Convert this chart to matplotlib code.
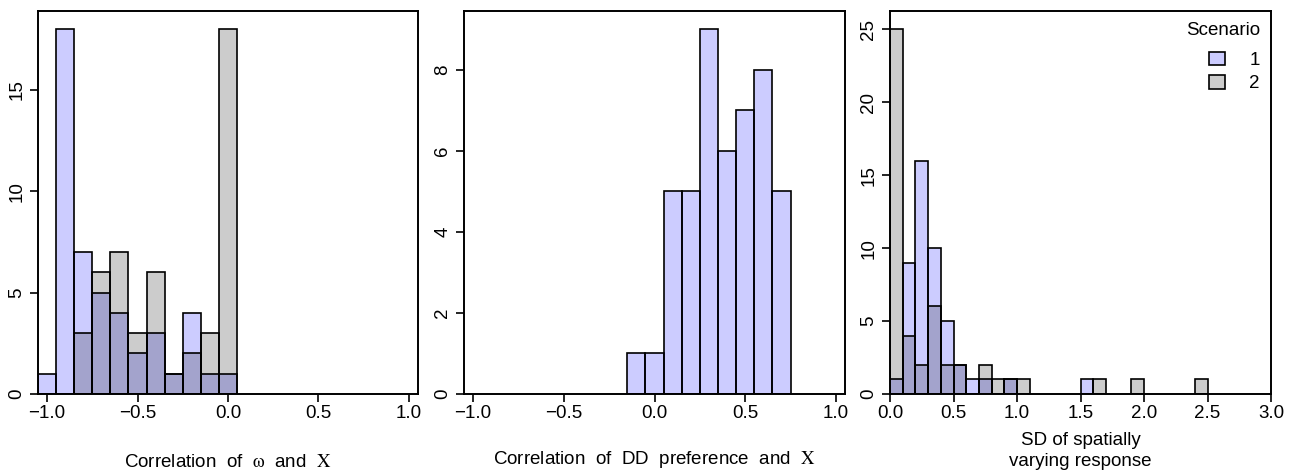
import matplotlib.pyplot as plt
from matplotlib.patches import Patch

plt.rcParams['font.family'] = ['Liberation Sans', 'DejaVu Sans']
plt.rcParams['mathtext.fontset'] = 'stix'

# Panel 1: correlation of omega and X (bin width 0.1)
p1_left = [-1.05, -0.95, -0.85, -0.75, -0.65, -0.55, -0.45, -0.35, -0.25, -0.15, -0.05]
p1_s1 = [1, 18, 7, 5, 4, 2, 3, 1, 4, 1, 1]
p1_s2 = [0, 0, 3, 6, 7, 3, 6, 1, 2, 3, 18]

# Panel 2: correlation of DD preference and X (scenario 1 only)
p2_left = [-0.15, -0.05, 0.05, 0.15, 0.25, 0.35, 0.45, 0.55, 0.65]
p2_s1 = [1, 1, 5, 5, 9, 6, 7, 8, 5]

# Panel 3: SD of spatially varying response
p3_left = [0.0, 0.1, 0.2, 0.3, 0.4, 0.5, 0.6, 0.7, 0.8, 0.9, 1.0, 1.5, 1.6, 1.9, 2.4]
p3_s1 = [1, 9, 16, 10, 5, 2, 1, 1, 0, 1, 0, 1, 0, 0, 0]
p3_s2 = [25, 4, 2, 6, 2, 2, 0, 2, 1, 1, 1, 0, 1, 1, 1]

scenarios = ['1', '2']
col1 = (0, 0, 1, 0.2)
col2 = (0, 0, 0, 0.2)
bw = 0.1

fig = plt.figure(figsize=(12.92, 4.74), dpi=100)
W, H = 1292, 474
boxes = [(38, 418), (464, 845), (890, 1271)]
top, bot = 11, 394
axes = [fig.add_axes([l / W, 1 - bot / H, (r - l) / W, (bot - top) / H]) for l, r in boxes]


def draw(ax, left, counts, color):
    lefts = [x for x, c in zip(left, counts) if c > 0]
    hs = [c for c in counts if c > 0]
    ax.bar(lefts, hs, width=bw, align='edge', color=color,
           edgecolor='black', linewidth=1.2)


draw(axes[0], p1_left, p1_s1, col1)
draw(axes[0], p1_left, p1_s2, col2)
draw(axes[1], p2_left, p2_s1, col1)
draw(axes[2], p3_left, p3_s1, col1)
draw(axes[2], p3_left, p3_s2, col2)

axes[0].set_xlim(-1.05, 1.05)
axes[0].set_ylim(0, 18.9)
axes[0].set_yticks([0, 5, 10, 15])
axes[1].set_xlim(-1.05, 1.05)
axes[1].set_ylim(0, 9.45)
axes[1].set_yticks([0, 2, 4, 6, 8])
axes[2].set_xlim(0, 3.0)
axes[2].set_ylim(0, 26.25)
axes[2].set_yticks([0, 5, 10, 15, 20, 25])

for ax in axes[:2]:
    ax.set_xticks([-1.0, -0.5, 0.0, 0.5, 1.0])
    ax.set_xticklabels(['\u22121.0', '\u22120.5', '0.0', '0.5', '1.0'])
axes[2].set_xticks([0.0, 0.5, 1.0, 1.5, 2.0, 2.5, 3.0])
axes[2].set_xticklabels(['0.0', '0.5', '1.0', '1.5', '2.0', '2.5', '3.0'])

for ax in axes:
    for s in ax.spines.values():
        s.set_linewidth(1.4)
    ax.tick_params(direction='out', length=6, width=1.2, labelsize=13.5, pad=2)
    ax.tick_params(axis='y', pad=3)
    for t in ax.get_yticklabels():
        t.set_rotation(90)
        t.set_va('center')

axes[0].text(0.5, -0.18, r'Correlation  of  $\mathrm{\omega}$  and  $\mathrm{X}$',
             transform=axes[0].transAxes, ha='center', va='center', fontsize=13.5)
axes[1].text(0.5, -0.172, r'Correlation  of  DD  preference  and  $\mathrm{X}$',
             transform=axes[1].transAxes, ha='center', va='center', fontsize=13.5)
axes[2].text(0.5, -0.148, 'SD of spatially\nvarying response',
             transform=axes[2].transAxes, ha='center', va='center', fontsize=13.5,
             linespacing=1.3)

handles = [Patch(facecolor=col1, edgecolor='black', linewidth=1.2),
           Patch(facecolor=col2, edgecolor='black', linewidth=1.2)]
leg = axes[2].legend(handles, scenarios, title='Scenario', loc='upper right',
                     frameon=False, fontsize=13.5, title_fontsize=13.5,
                     handlelength=0.85, handleheight=0.75, handletextpad=1.3,
                     labelspacing=0.3, borderaxespad=0.2)
leg._legend_box.align = 'right'
leg._legend_box.sep = 9

fig.savefig('out.png', dpi=100, facecolor='white')
